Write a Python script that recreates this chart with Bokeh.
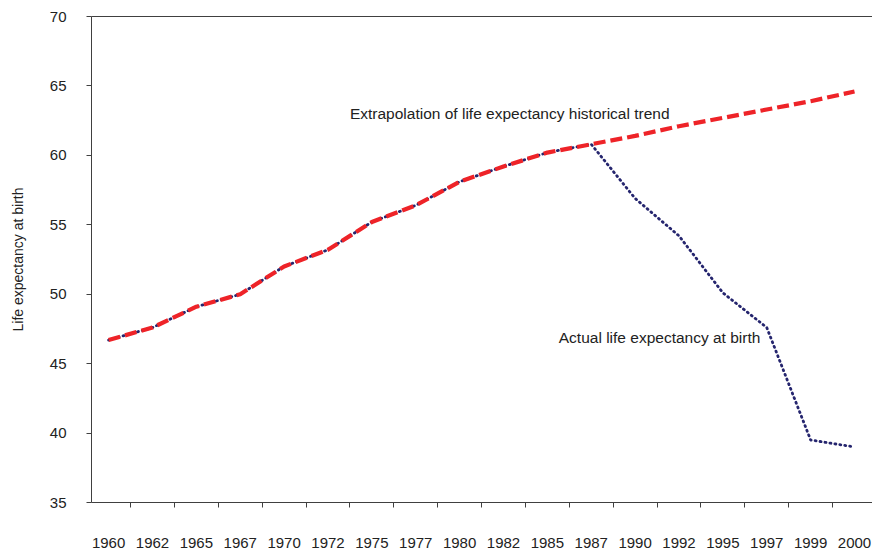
from bokeh.plotting import figure
from bokeh.models import Range1d, FixedTicker, LinearAxis, Label
from bokeh.embed import file_html
from bokeh.resources import INLINE

years = ["1960", "1962", "1965", "1967", "1970", "1972", "1975", "1977", "1980",
         "1982", "1985", "1987", "1990", "1992", "1995", "1997", "1999", "2000"]
actual = [46.7, 47.6, 49.1, 50.0, 52.0, 53.2, 55.2, 56.4, 58.1,
          59.2, 60.2, 60.8, 56.9, 54.2, 50.1, 47.6, 39.5, 39.0]
trend = [46.7, 47.6, 49.1, 50.0, 52.0, 53.2, 55.2, 56.4, 58.1,
         59.2, 60.2, 60.8, 61.4, 62.1, 62.7, 63.3, 63.9, 64.6]
y_ticks = [35, 40, 45, 50, 55, 60, 65, 70]

FONT = "Liberation Sans"
TXT = "#222222"
AX = "#404040"

xs = list(range(len(years)))

p = figure(width=872, height=550, output_backend="svg", toolbar_location=None,
           x_range=Range1d(-0.39, 17.41), y_range=Range1d(35, 70),
           x_axis_location=None, y_axis_location=None,
           min_border_left=91, min_border_right=0, min_border_top=16, min_border_bottom=48)
p.outline_line_color = None
p.grid.visible = False
p.background_fill_color = "white"
p.border_fill_color = "white"

yaxis = LinearAxis(ticker=FixedTicker(ticks=y_ticks),
                   major_tick_out=5, major_tick_in=0, minor_tick_out=0, minor_tick_in=0,
                   major_label_standoff=20, axis_line_color=AX, major_tick_line_color=AX,
                   major_label_text_font=FONT, major_label_text_font_size="15px",
                   major_label_text_color=TXT,
                   axis_label="Life expectancy at birth", axis_label_standoff=21,
                   axis_label_text_font=FONT, axis_label_text_font_size="14px",
                   axis_label_text_font_style="normal", axis_label_text_color=TXT)
p.add_layout(yaxis, "left")

xaxis = LinearAxis(ticker=FixedTicker(ticks=xs, minor_ticks=[i + 0.5 for i in range(len(years))]),
                   major_label_overrides={i: years[i] for i in xs},
                   major_tick_out=0, major_tick_in=0, minor_tick_out=5, minor_tick_in=0,
                   minor_tick_line_color=AX, axis_line_color=AX,
                   major_label_standoff=30,
                   major_label_text_font=FONT, major_label_text_font_size="15px",
                   major_label_text_color=TXT)
p.add_layout(xaxis, "below")

top = LinearAxis(ticker=FixedTicker(ticks=[]), major_tick_out=0, major_tick_in=0,
                 minor_tick_out=0, minor_tick_in=0, major_label_standoff=0,
                 major_label_text_font_size="0px", axis_line_color=AX)
p.add_layout(top, "above")

p.line(xs, actual, line_color="#25256e", line_width=2.8, line_dash="1 4", line_cap="round")
p.line(xs, trend, line_color="#ee2328", line_width=4.2, line_dash="12 5")

p.add_layout(Label(x=5.5, y=63.0, text="Extrapolation of life expectancy historical trend",
                   text_baseline="middle", text_align="left", text_font=FONT,
                   text_font_size="15.5px", text_color=TXT))
p.add_layout(Label(x=10.26, y=46.87, text="Actual life expectancy at birth",
                   text_baseline="middle", text_align="left", text_font=FONT,
                   text_font_size="15.5px", text_color=TXT))

open("out.html", "w").write(file_html(p, INLINE))
